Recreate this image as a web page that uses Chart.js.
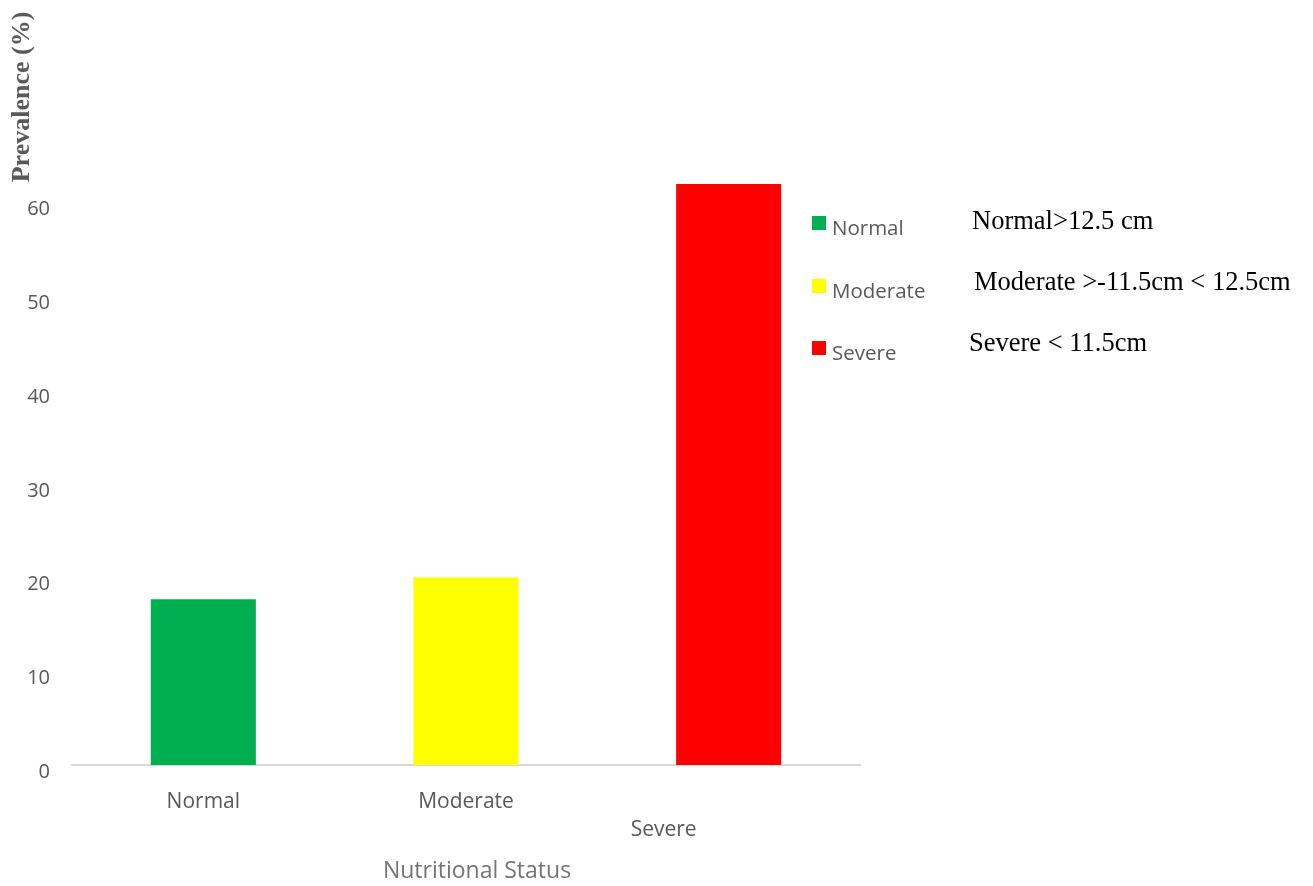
<!DOCTYPE html>
<html>
<head>
<meta charset="utf-8">
<script src="https://cdn.jsdelivr.net/npm/chart.js@4"></script>
<style>
  html, body { margin: 0; padding: 0; background: #fff; }
  #wrap { position: relative; width: 1313px; height: 886px; }
</style>
</head>
<body>
<div id="wrap"><canvas id="chart" width="1313" height="886"></canvas></div>
<script>
// ---- data ----
const categories = ["Normal", "Moderate", "Severe"];
const prevalence = [17.7, 20.0, 62.0];
const barColors = ["#00b050", "#ffff00", "#ff0000"];
const cutoffNotes = ["Normal>12.5 cm", "Moderate >-11.5cm < 12.5cm", "Severe < 11.5cm"];
const yMax = 70;
const yStep = 10;

const GREY = "#595959";
const SANS = "'Open Sans', 'Noto Sans', sans-serif";
const SERIF = "'Liberation Serif', 'DejaVu Serif', serif";

// x labels are staggered in the original, so they are drawn by hand
const xLabelShift = [{ dx: 0, dy: 37 }, { dx: 0, dy: 37 }, { dx: -65, dy: 65 }];

const decorations = {
  id: "decorations",
  afterDraw(chart) {
    const { ctx, scales } = chart;
    const x = scales.x;
    ctx.save();

    // category labels
    ctx.font = "21px " + SANS;
    ctx.fillStyle = GREY;
    ctx.textAlign = "center";
    ctx.textBaseline = "middle";
    categories.forEach((c, i) => {
      ctx.fillText(c, x.getPixelForValue(i) + xLabelShift[i].dx, x.top + xLabelShift[i].dy);
    });

    // x axis title
    ctx.font = "23px " + SANS;
    ctx.fillStyle = "#757575";
    ctx.fillText("Nutritional Status", 477, 871);

    // y axis title (sits at the top, not centred)
    ctx.save();
    ctx.translate(22, 97);
    ctx.rotate(-Math.PI / 2);
    ctx.font = "bold 26px " + SERIF;
    ctx.fillStyle = GREY;
    ctx.fillText("Prevalence (%)", 0, 0);
    ctx.restore();

    // legend
    const legendY = [223, 286, 348];
    ctx.textAlign = "left";
    ctx.font = "20.5px " + SANS;
    categories.forEach((c, i) => {
      ctx.fillStyle = barColors[i];
      ctx.fillRect(812, legendY[i] - 7, 14, 14);
      ctx.fillStyle = GREY;
      ctx.fillText(c, 832, legendY[i] + 6);
    });

    // cut-off notes
    const noteX = [972, 974, 969];
    const noteY = [222, 283, 344];
    ctx.font = "26.5px " + SERIF;
    ctx.fillStyle = "#000";
    cutoffNotes.forEach((t, i) => ctx.fillText(t, noteX[i], noteY[i]));

    ctx.restore();
  },
};

new Chart(document.getElementById("chart"), {
  type: "bar",
  data: {
    labels: categories,
    datasets: [{
      label: "Prevalence (%)",
      data: prevalence,
      backgroundColor: barColors,
      borderWidth: 0,
      categoryPercentage: 1,
      barPercentage: 0.4,
    }],
  },
  options: {
    responsive: false,
    animation: false,
    layout: { padding: { top: 109, right: 453, bottom: 0, left: 0 } },
    plugins: { legend: { display: false }, tooltip: { enabled: false } },
    scales: {
      x: {
        grid: { display: false },
        border: { display: true, color: "#d9d9d9", width: 2 },
        ticks: { display: false },
        afterFit: (s) => { s.height = 121; },
      },
      y: {
        min: 0,
        max: yMax,
        grid: { display: false },
        border: { display: false },
        ticks: {
          stepSize: yStep,
          padding: 14,
          labelOffset: 7,
          color: GREY,
          font: { size: 20, family: SANS },
          callback: (v) => (v >= yMax ? "" : v),
        },
        afterFit: (s) => { s.width = 72; },
      },
    },
  },
  plugins: [decorations],
});
</script>
</body>
</html>
